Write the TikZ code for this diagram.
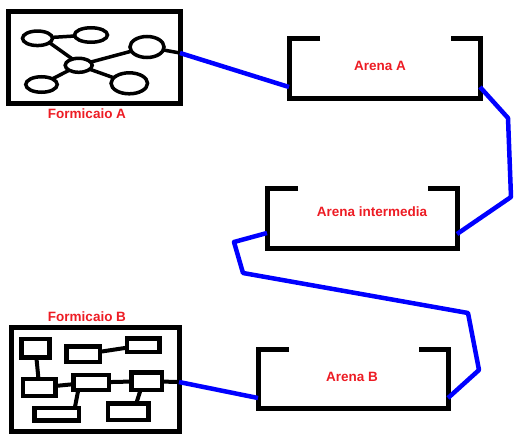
\documentclass[tikz,border=0pt]{standalone}
\usepackage{fontspec}
\setmainfont{Liberation Sans}
\usepackage{xcolor}
\usetikzlibrary{shapes.geometric}
\definecolor{labred}{RGB}{237,28,36}
\definecolor{wireblue}{RGB}{0,0,255}
\tikzset{
  nest/.style={draw,rectangle,line width=5pt,inner sep=0pt,outer sep=0pt},
  ant/.style={draw,ellipse,line width=3.5pt,inner sep=0pt,outer sep=0pt},
  cell/.style={draw,rectangle,line width=4.5pt,inner sep=0pt,outer sep=0pt},
  arena/.style={rectangle,inner sep=0pt,outer sep=0pt,minimum width=190pt},
  bracket/.style={line width=5pt},
  tube/.style={draw=wireblue,line width=4.5pt,line join=round},
  lbl/.style={text=labred,font=\bfseries\fontsize{13.5}{16}\selectfont,inner sep=0pt}
}
\begin{document}
\begin{tikzpicture}[x=1pt,y=-1pt]
        \useasboundingbox (0,0) rectangle (530,444);
        \node[nest,minimum width=172pt,minimum height=91pt](formA) at (94,57.5) {};
        \node[ant,minimum width=30pt,minimum height=14.5pt](e1) at (37.5,38.3) {};
        \node[ant,minimum width=33pt,minimum height=14.5pt](e2) at (91,35) {};
        \node[ant,minimum width=34pt,minimum height=21pt](e3) at (147,47) {};
        \node[ant,minimum width=27pt,minimum height=14pt](e4) at (78.7,65.3) {};
        \node[ant,minimum width=31.5pt,minimum height=15.5pt](e5) at (41.5,84.5) {};
        \node[ant,minimum width=36.5pt,minimum height=21pt](e6) at (129.3,83.3) {};
        \coordinate(pA) at ([yshift=4.5pt]formA.east);
        \draw[line width=3.5pt](e1)--(e2);
        \draw[line width=3.5pt](e1.-20)--(e4.135);
        \draw[line width=3.5pt](e4)--(e3);
        \draw[line width=3.5pt](e4)--(e6);
        \draw[line width=3.5pt](e4)--(e5);
        \draw[line width=3.5pt](e3)--(pA);
        \node[lbl](labA) at (87,114) {Formicaio A};
        \node[nest,minimum width=168pt,minimum height=104pt](formB) at (95,379) {};
        \node[cell,minimum width=27.9pt,minimum height=18.8pt](r1) at (35.5,348.3) {};
        \node[cell,minimum width=33.5pt,minimum height=15.5pt](r2) at (83.3,354.3) {};
        \node[cell,minimum width=32.2pt,minimum height=13.8pt](r3) at (143.3,345.2) {};
        \node[cell,minimum width=32.2pt,minimum height=17.1pt](r4) at (39.3,387.5) {};
        \node[cell,minimum width=35.5pt,minimum height=15.1pt](r5) at (91,382.5) {};
        \node[cell,minimum width=30.5pt,minimum height=17.8pt](r6) at (146.5,381.2) {};
        \node[cell,minimum width=44.2pt,minimum height=12.5pt](r7) at (56.7,414.2) {};
        \node[cell,minimum width=40.2pt,minimum height=16.8pt](r8) at (128.3,411.7) {};
        \coordinate(pB) at ([yshift=-3pt]formB.east);
        \draw[line width=4pt](r1)--(r4);
        \draw[line width=4pt](r4)--(r5);
        \draw[line width=4pt](r5)--(r6);
        \draw[line width=4pt](r2)--(r3);
        \draw[line width=4pt]([xshift=5pt]r5.south west)--([xshift=-4pt]r7.north east);
        \draw[line width=4pt]([xshift=-6pt]r6.south)--([xshift=8pt]r8.north);
        \draw[line width=4pt](r6)--(pB);
        \node[lbl](labB) at (87,317) {Formicaio B};
        \node[arena,minimum width=191pt,minimum height=59pt](arA) at (384.5,68.5) {};
        \node[arena,minimum height=60pt](arI) at (362,218) {};
        \node[arena,minimum height=59pt](arB) at (353,378.5) {};
        \foreach \n in {arA,arI,arB}
          \draw[bracket]([xshift=31pt]\n.north west)--(\n.north west)--(\n.south west)--(\n.south east)--(\n.north east)--([xshift=-29pt]\n.north east);
        \node[lbl](tA) at (380,66) {Arena A};
        \node[lbl](tI) at (372,212) {Arena intermedia};
        \node[lbl](tB) at (352,377) {Arena B};
        \coordinate(b1) at (508,118);
        \coordinate(b2) at (511,197);
        \coordinate(b3) at (234,242);
        \coordinate(b4) at (243,273);
        \coordinate(b5) at (468,313);
        \coordinate(b6) at (479,370);
        \draw[tube](pA)--([yshift=11pt]arA.south west);
        \draw[tube]([yshift=11pt]arA.south east)--(b1)--(b2)--([yshift=14pt]arI.south east);
        \draw[tube]([yshift=15pt]arI.south west)--(b3)--(b4)--(b5)--(b6)--([yshift=10pt]arB.south east);
        \draw[tube](pB)--([yshift=10pt]arB.south west);
        \end{tikzpicture}
\end{document}
